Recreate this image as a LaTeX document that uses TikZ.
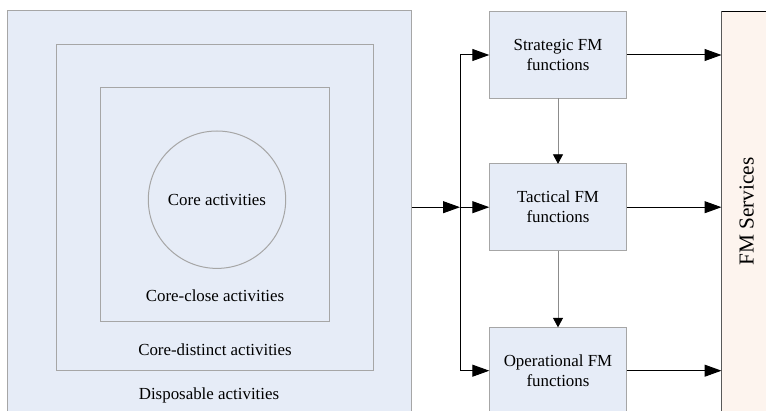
\documentclass[tikz,border=0pt]{standalone}
\usepackage{fontspec}
\setmainfont{Liberation Serif}
\usetikzlibrary{arrows.meta}
\definecolor{boxfill}{HTML}{E6ECF7}
\definecolor{boxline}{HTML}{A6A6A6}
\definecolor{svcfill}{HTML}{FDF4EE}
\begin{document}
\begin{tikzpicture}[x=1pt,y=-1pt,
  region/.style={draw=boxline, fill=boxfill, line width=1pt, inner sep=0pt, outer sep=0pt},
  frame/.style={draw=boxline, line width=1pt, inner sep=0pt, outer sep=0pt},
  fmbox/.style={draw=boxline, fill=boxfill, line width=1pt, inner sep=0pt, outer sep=0pt,
    minimum width=137.4pt, minimum height=86.7pt, align=center,
    font=\fontsize{16.9}{20}\selectfont},
  lbl/.style={inner sep=0pt, font=\fontsize{16.9}{20}\selectfont},
  bigarrow/.style={draw=black, line width=1pt, -{Triangle[length=17pt,width=12pt]}},
  smallarrow/.style={draw=black!45, line width=0.8pt, -{Triangle[length=9.5pt,width=10pt,color=black]}}]
\clip (0,0) rectangle (766,411);
\fill[white] (0,0) rectangle (766,411);
% left nested regions
\node[region, minimum width=404pt, minimum height=410pt] (outer) at (209.5,216) {};
\node[frame, minimum width=316.6pt, minimum height=325.7pt] (mid) at (215,207.2) {};
\node[frame, minimum width=229pt, minimum height=233.6pt] (inner) at (214.8,204.5) {};
\node[frame, circle, minimum size=137.4pt] (core) at (217,199.7) {};
\node[lbl] (lcore) at (217,200) {Core activities};
\node[lbl] (lclose) at (215,295.3) {Core-close activities};
\node[lbl] (ldist) at (215,349.3) {Core-distinct activities};
\node[lbl] (ldisp) at (209,395.7) {Disposable activities};
% FM function boxes
\node[fmbox] (str) at (558,55) {Strategic FM\\functions};
\node[fmbox] (tac) at (558,207.2) {Tactical FM\\functions};
\node[fmbox] (op) at (558,370.7) {Operational FM\\functions};
% FM services
\node[draw=black!65, fill=svcfill, line width=1pt, inner sep=0pt, outer sep=0pt,
  minimum width=70pt, minimum height=420pt] (svc) at (756.5,221.5) {};
\draw[black, line width=1pt] (svc.north west) -- (svc.north east);
\node[inner sep=0pt, rotate=90, font=\fontsize{21.3}{24}\selectfont] (lsvc) at (746.7,211.7) {FM Services};
% connectors
\coordinate (jn) at (460,207.2);
\draw[bigarrow] (outer.east |- tac.west) -- (jn);
\draw[black, line width=1pt] (jn |- str.west) -- (jn |- op.west);
\draw[bigarrow] (jn |- str.west) -- (str.west);
\draw[bigarrow] (jn) -- (tac.west);
\draw[bigarrow] (jn |- op.west) -- (op.west);
\draw[bigarrow] (str.east) -- (str.east -| svc.west);
\draw[bigarrow] (tac.east) -- (tac.east -| svc.west);
\draw[bigarrow] (op.east) -- (op.east -| svc.west);
\draw[smallarrow] (str.south) -- (tac.north);
\draw[smallarrow] (tac.south) -- (op.north);
\end{tikzpicture}
\end{document}
